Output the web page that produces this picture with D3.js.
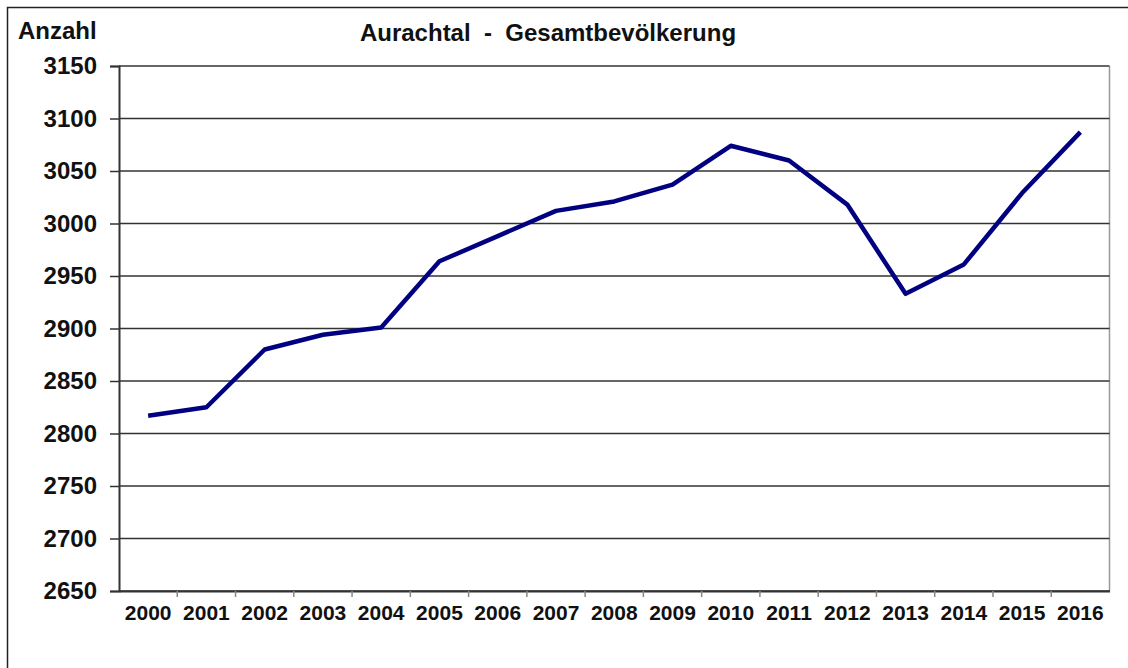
<!DOCTYPE html>
<html>
<head>
<meta charset="utf-8">
<script src="https://cdn.jsdelivr.net/npm/d3@7"></script>
<style>
  body { margin: 0; background: #fff; }
  svg { display: block; font-family: "Liberation Sans", Arial, sans-serif; font-weight: bold; }
</style>
</head>
<body>
<svg id="chart" width="1128" height="668"></svg>
<script>
// Data
var years = ["2000", "2001", "2002", "2003", "2004", "2005", "2006", "2007", "2008",
             "2009", "2010", "2011", "2012", "2013", "2014", "2015", "2016"];
var population = [2817, 2825, 2880, 2894, 2901, 2964, 2988, 3012, 3021,
                  3037, 3074, 3060, 3018, 2933, 2961, 3029, 3087];
var yTicks = [2650, 2700, 2750, 2800, 2850, 2900, 2950, 3000, 3050, 3100, 3150];

var svg = d3.select("svg#chart"),
    margin = {top: 66, left: 119, bottom: 77, right: 18.5},
    width = 1128 - margin.left - margin.right,
    height = 668 - margin.top - margin.bottom;

// outer frame
svg.append("rect")
    .attr("x", 7.5).attr("y", 7.5)
    .attr("width", 1140).attr("height", 680)
    .attr("fill", "none").attr("stroke", "#222").attr("stroke-width", 1.5);

var g = svg.append("g").attr("transform", "translate(" + margin.left + "," + margin.top + ")");

var x = d3.scaleBand().domain(years).range([0, width]);
var y = d3.scaleLinear().domain([2650, 3150]).range([height, 0]);

// plot border (right side is lighter)
g.append("line")
    .attr("x1", width).attr("x2", width).attr("y1", 0).attr("y2", height)
    .attr("stroke", "#999").attr("stroke-width", 1.5);

// gridlines
g.append("g")
    .selectAll("line")
    .data(yTicks)
    .enter().append("line")
    .attr("x1", 0).attr("x2", width)
    .attr("y1", function (d) { return y(d); })
    .attr("y2", function (d) { return y(d); })
    .attr("stroke", "#333").attr("stroke-width", 1.5);

// y axis
var yAxis = d3.axisLeft(y).tickValues(yTicks).tickSize(9).tickPadding(13).tickFormat(d3.format("d"));
var ya = g.append("g").attr("class", "y axis").call(yAxis);
ya.select(".domain").attr("stroke", "#333").attr("stroke-width", 2);
ya.selectAll(".tick line").attr("stroke", "#333").attr("stroke-width", 1.5);
ya.selectAll("text").attr("font-size", 24).attr("font-weight", "bold")
    .attr("font-family", "Liberation Sans, Arial, sans-serif").attr("fill", "#111");

// x axis
var xAxis = d3.axisBottom(x).tickSize(0).tickPadding(14);
var xa = g.append("g").attr("class", "x axis")
    .attr("transform", "translate(0," + height + ")").call(xAxis);
xa.select(".domain").attr("stroke", "#333").attr("stroke-width", 2);
xa.selectAll("text").attr("font-size", 21).attr("font-weight", "bold")
    .attr("font-family", "Liberation Sans, Arial, sans-serif").attr("fill", "#111");

// category separators below the axis
xa.selectAll(".sep")
    .data(years.slice(1))
    .enter().append("line")
    .attr("class", "sep")
    .attr("x1", function (d) { return x(d); })
    .attr("x2", function (d) { return x(d); })
    .attr("y1", 0).attr("y2", 6)
    .attr("stroke", "#888").attr("stroke-width", 1.5);

// line
var line = d3.line()
    .x(function (d, i) { return x(years[i]) + x.bandwidth() / 2; })
    .y(function (d) { return y(d); });

g.append("path")
    .datum(population)
    .attr("fill", "none")
    .attr("stroke", "#000080")
    .attr("stroke-width", 4.5)
    .attr("stroke-linejoin", "round")
    .attr("d", line);

// titles
svg.append("text")
    .attr("x", 18).attr("y", 39)
    .attr("font-size", 24)
    .attr("fill", "#111")
    .text("Anzahl");

svg.append("text")
    .attr("x", 548).attr("y", 41)
    .attr("text-anchor", "middle")
    .attr("font-size", 24)
    .attr("fill", "#111")
    .style("white-space", "pre")
    .text("Aurachtal  -  Gesamtbevölkerung");
</script>
</body>
</html>
